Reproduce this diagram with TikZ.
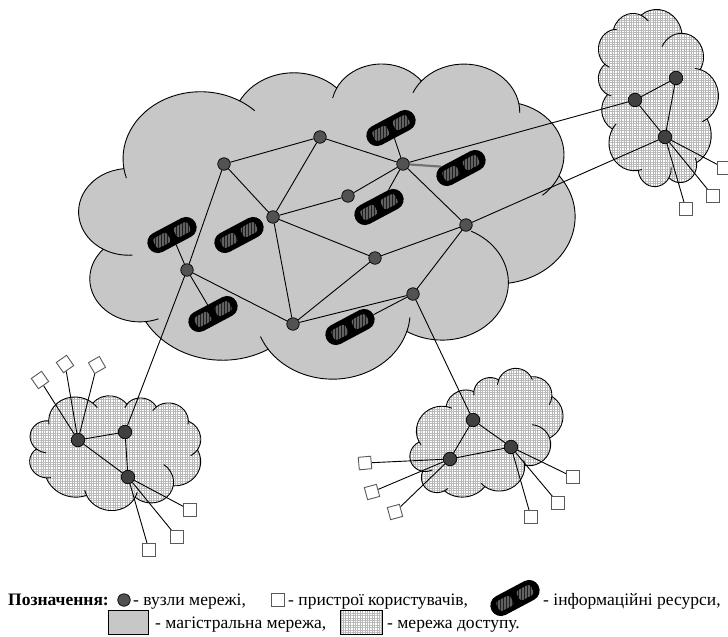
\documentclass[tikz,border=0pt]{standalone}
\usepackage{fontspec}
\setmainfont{Liberation Serif}
\usetikzlibrary{patterns.meta}
\pgfdeclarelayer{bg}
\pgfdeclarelayer{edgelayer}
\pgfsetlayers{bg,edgelayer,main}

% Office-style cloud outline, local box 0..432 (y down)
\newcommand\cloudoutline{(39.00,143.70)
 arc[start angle=-187.75, end angle=-59.67, x radius=67.53, y radius=91.90]
 arc[start angle=-152.02, end angle=-45.49, x radius=53.33, y radius=72.67]
 arc[start angle=-153.48, end angle=-37.32, x radius=43.65, y radius=59.45]
 arc[start angle=-139.71, end angle=-10.21, x radius=48.57, y radius=65.95]
 arc[start angle=-74.78, end angle=23.21, x radius=53.33, y radius=72.73]
 arc[start angle=-37.51, end angle=81.86, x radius=67.75, y radius=92.20]
 arc[start angle=0.46, end angle=121.94, x radius=57.85, y radius=78.67]
 arc[start angle=16.85, end angle=146.25, x radius=67.52, y radius=92.15]
 arc[start angle=59.02, end angle=150.17, x radius=77.20, y radius=105.43]
 arc[start angle=-276.70, end angle=-136.92, x radius=43.60, y radius=59.18]
 arc[start angle=-239.61, end angle=-95.89, x radius=43.45, y radius=59.45]
 -- cycle}
\newcommand\cloudinner{(46.52,263.42) arc[start angle=85.55, end angle=120.39, x radius=43.45, y radius=59.45]
 (69.15,350.84) arc[start angle=68.27, end angle=83.30, x radius=43.60, y radius=59.18]
 (164.79,392.59) arc[start angle=146.25, end angle=158.48, x radius=67.52, y radius=92.15]
 (288.22,348.99) arc[start angle=4.74, end angle=16.85, x radius=67.52, y radius=92.15]
 (341.51,230.62) arc[start angle=-64.00, end angle=0.46, x radius=57.85, y radius=78.67]
 (418.16,154.55) arc[start angle=23.21, end angle=49.67, x radius=53.33, y radius=72.73]
 (383.14,55.71) arc[start angle=-10.21, end angle=0.82, x radius=48.57, y radius=65.95]
 (290.87,40.87) arc[start angle=-156.28, end angle=-139.71, x radius=48.57, y radius=65.95]
 (220.93,48.15) arc[start angle=-167.72, end angle=-153.48, x radius=43.65, y radius=59.45]
 (140.03,51.98) arc[start angle=-59.67, end angle=-45.75, x radius=67.53, y radius=91.90]
 (41.27,157.88) arc[start angle=163.19, end angle=172.25, x radius=67.53, y radius=91.90]}

\begin{document}
\begin{tikzpicture}[x=1pt,y=-1pt,
  netnode/.style={circle, draw=black, fill=black!68, line width=0.7pt, minimum size=12.5pt, inner sep=0pt},
  accnode/.style={netnode, fill=black!75, minimum size=13.5pt},
  dev/.style={rectangle, draw=black!65, fill=white, line width=0.9pt, minimum size=12.5pt, inner sep=0pt},
  res/.style={rectangle, rounded corners=10.4pt, fill=black, minimum width=53pt, minimum height=21pt, inner sep=0pt, rotate=28},
  patch/.style={rounded corners=3pt, fill=black!88, postaction={pattern={Lines[angle=90,distance=1.5pt,line width=0.45pt]}, pattern color=black!62}},
  link/.style={line width=0.9pt, black},
  cloudline/.style={draw=black, line width=0.9pt},
  backbone/.style={cloudline, fill=black!22},
  accesscl/.style={cloudline, preaction={fill=white}, pattern={Hatch[angle=0,distance=2.4pt,line width=0.4pt]}, pattern color=black!28},
  lg/.style={font=\fontsize{17.5pt}{20pt}\selectfont, inner sep=0pt, anchor=base west}
]
\useasboundingbox (0,0) rectangle (728,637);

\begin{pgfonlayer}{bg}
% backbone cloud
\begin{scope}[shift={(79,63)}, x=1.1481pt, y=-0.7292pt]
  \path[backbone] \cloudoutline;
  \path[cloudline] \cloudinner;
\end{scope}
% top-right access cloud
\begin{scope}[shift={(658,98)}, x={(0pt,0.4097pt)}, y={(0.2778pt,0pt)}]
 \begin{scope}[shift={(-216,-216)}]
  \path[accesscl] \cloudoutline;
  \path[cloudline] \cloudinner;
 \end{scope}
\end{scope}
% bottom-left access cloud
\begin{scope}[shift={(115,452)}, x={(0.3939pt,-0.0694pt)}, y={(-0.0469pt,-0.2659pt)}]
 \begin{scope}[shift={(-216,-216)}]
  \path[accesscl] \cloudoutline;
  \path[cloudline] \cloudinner;
 \end{scope}
\end{scope}
% bottom-right access cloud
\begin{scope}[shift={(487,437)}, x={(0.3477pt,0.1266pt)}, y={(0.0889pt,-0.2443pt)}]
 \begin{scope}[shift={(-216,-216)}]
  \path[accesscl] \cloudoutline;
  \path[cloudline] \cloudinner;
 \end{scope}
\end{scope}
\end{pgfonlayer}

% backbone nodes
\node[netnode] (A) at (224,164) {};
\node[netnode] (B) at (320,137) {};
\node[netnode] (C) at (403,164) {};
\node[netnode] (D) at (348,196) {};
\node[netnode] (E) at (273,217) {};
\node[netnode] (F) at (466,225) {};
\node[netnode] (G) at (375,258) {};
\node[netnode] (H) at (187,270) {};
\node[netnode] (I) at (413,294) {};
\node[netnode] (J) at (293,324) {};
% information resources
\node[res] (R1) at (391,128) {};
\node[res] (R2) at (461,168) {};
\node[res] (R3) at (379,207) {};
\node[res] (R4) at (172,235) {};
\node[res] (R5) at (239,235) {};
\node[res] (R6) at (213,314) {};
\node[res] (R7) at (350,327) {};
% access nodes
\node[accnode] (T1) at (635,100) {};
\node[accnode] (T2) at (676,78) {};
\node[accnode] (T3) at (665,137) {};
\node[accnode] (L1) at (78,440) {};
\node[accnode] (L2) at (125,432) {};
\node[accnode] (L3) at (128,477) {};
\node[accnode] (P1) at (473,420) {};
\node[accnode] (P2) at (511,447) {};
\node[accnode] (P3) at (450,459) {};
% user devices
\node[dev, rotate=35] (dL1) at (40,380) {};
\node[dev, rotate=35] (dL2) at (65,364) {};
\node[dev, rotate=30] (dL3) at (97,365) {};
\node[dev] (dL4) at (190,510) {};
\node[dev] (dL5) at (177,537) {};
\node[dev] (dL6) at (149,550) {};
\node[dev] (dT1) at (724,168) {};
\node[dev] (dT2) at (713,196) {};
\node[dev] (dT3) at (686,209) {};
\node[dev, rotate=5] (dP1) at (365,463) {};
\node[dev, rotate=15] (dP2) at (372,492) {};
\node[dev, rotate=15] (dP3) at (395,512) {};
\node[dev] (dP4) at (573,477) {};
\node[dev] (dP5) at (558,503) {};
\node[dev] (dP6) at (531,517) {};

\begin{pgfonlayer}{edgelayer}
\draw[link] (A) -- (B);
\draw[link] (A) -- (E);
\draw[link] (A) -- (H);
\draw[link] (B) -- (C);
\draw[link] (B) -- (E);
\draw[link] (C) -- (D);
\draw[link] (C) -- (F);
\draw[link] (D) -- (E);
\draw[link] (E) -- (G);
\draw[link] (G) -- (F);
\draw[link] (E) -- (J);
\draw[link] (G) -- (J);
\draw[link] (F) -- (I);
\draw[link] (H) -- (J);
\draw[link] (J) -- (I);
\draw[link] (C) -- (R1);
\draw[line width=2.2pt, black!55] (C) -- (R2);
\draw[link] (C) -- (R3);
\draw[link] (H) -- (R4);
\draw[link] (H) -- (R6);
\draw[link] (I) -- (R7);
\draw[link] (C) -- (T1);
\draw[link] (F) -- (T3);
\draw[link] (H) -- (L2);
\draw[link] (I) -- (P1);
\draw[link] (T1) -- (T2);
\draw[link] (T2) -- (T3);
\draw[link] (T1) -- (T3);
\draw[link] (L1) -- (L2);
\draw[link] (L2) -- (L3);
\draw[link] (L1) -- (L3);
\draw[link] (P1) -- (P2);
\draw[link] (P1) -- (P3);
\draw[link] (P3) -- (P2);
\foreach \d in {dT1,dT2,dT3} \draw[link] (T3) -- (\d);
\foreach \d in {dL1,dL2,dL3} \draw[link] (L1) -- (\d);
\foreach \d in {dL4,dL5,dL6} \draw[link] (L3) -- (\d);
\foreach \d in {dP1,dP2,dP3} \draw[link] (P3) -- (\d);
\foreach \d in {dP4,dP5,dP6} \draw[link] (P2) -- (\d);
\end{pgfonlayer}

% legend
\node[lg, font=\fontsize{17.5pt}{20pt}\selectfont\bfseries] (lgT) at (8,605) {Позначення:};
\node[netnode] (lgN) at (124,600) {};
\node[lg] (lgNt) at (133,605) {- вузли мережі,};
\node[dev] (lgD) at (278,600) {};
\node[lg] (lgDt) at (288,605) {- пристрої користувачів,};
\node[res] (lgR) at (515,598) {};
\node[lg] (lgRt) at (543,605) {- інформаційні ресурси,};
\node[backbone, rectangle, minimum width=40pt, minimum height=24pt, inner sep=0pt, line width=0.8pt] (lgB) at (128,622) {};
\node[lg] (lgBt) at (155,628) {- магістральна мережа,};
\node[accesscl, rectangle, minimum width=42pt, minimum height=24pt, inner sep=0pt, line width=0.8pt] (lgA) at (361,622) {};
\node[lg] (lgAt) at (387,628) {- мережа доступу.};

% resource patches
\foreach \r in {R1,R2,R3,R4,R5,R6,R7,lgR}{
  \begin{scope}[shift={(\r.center)}, rotate=28]
    \path[patch] (3.5,-5.5) rectangle (19.5,5.5);
    \path[patch] (-19.5,-5.5) rectangle (-3.5,5.5);
  \end{scope}
}
\end{tikzpicture}
\end{document}
